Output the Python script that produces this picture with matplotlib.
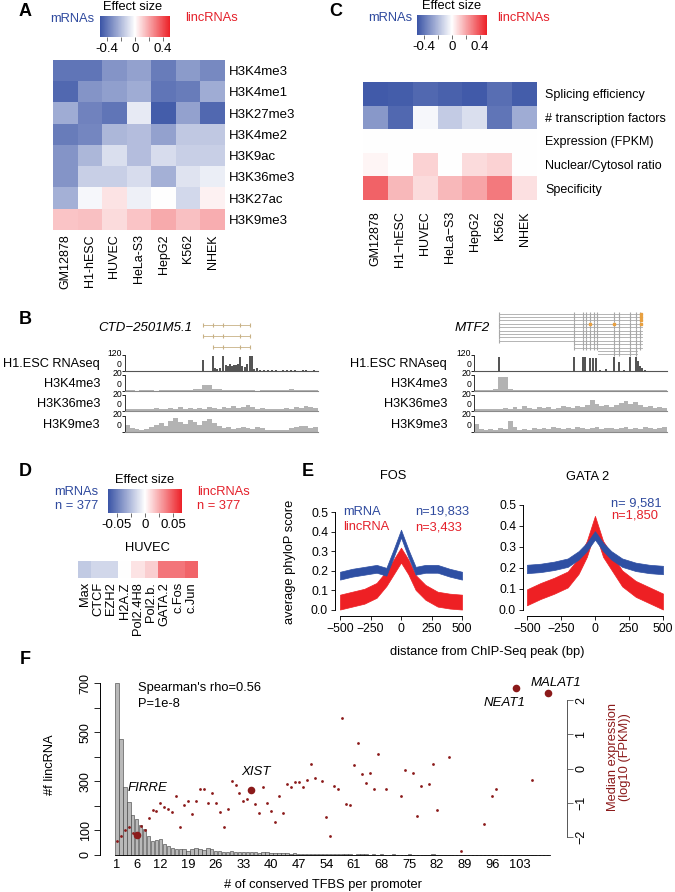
import numpy as np
import matplotlib
matplotlib.use('Agg')
import matplotlib.pyplot as plt
from matplotlib.colors import LinearSegmentedColormap, Normalize
from matplotlib.cm import ScalarMappable

plt.rcParams['font.family'] = ['Liberation Sans', 'DejaVu Sans']
plt.rcParams['font.size'] = 9

# ---------------- data ----------------
cell_lines = ['GM12878', 'H1-hESC', 'HUVEC', 'HeLa-S3', 'HepG2', 'K562', 'NHEK']
cell_lines_c = ['GM12878', 'H1\u2212hESC', 'HUVEC', 'HeLa\u2212S3', 'HepG2', 'K562', 'NHEK']

marks_a = ['H3K4me3', 'H3K4me1', 'H3K27me3', 'H3K4me2', 'H3K9ac', 'H3K36me3', 'H3K27ac', 'H3K9me3']
effect_a = [
    [-0.40, -0.40, -0.31, -0.27, -0.38, -0.29, -0.34],
    [-0.44, -0.31, -0.28, -0.24, -0.40, -0.38, -0.24],
    [-0.24, -0.36, -0.40, -0.06, -0.47, -0.27, -0.44],
    [-0.38, -0.35, -0.21, -0.19, -0.27, -0.16, -0.16],
    [-0.31, -0.21, -0.09, -0.19, -0.10, -0.14, -0.14],
    [-0.31, -0.14, -0.14, -0.10, -0.23, -0.08, -0.05],
    [-0.23, -0.02, 0.06, -0.04, 0.00, -0.11, 0.03],
    [0.13, 0.14, 0.08, 0.13, 0.19, 0.14, 0.18],
]

features_c = ['Splicing efficiency', '# transcription factors', 'Expression (FPKM)',
              'Nuclear/Cytosol ratio', 'Specificity']
effect_c = [
    [-0.48, -0.47, -0.44, -0.46, -0.48, -0.42, -0.47],
    [-0.30, -0.44, -0.02, -0.15, -0.09, -0.40, -0.24],
    [0.00, 0.00, 0.00, 0.00, 0.00, 0.00, 0.00],
    [0.02, 0.00, 0.10, 0.00, 0.08, 0.10, 0.00],
    [0.35, 0.16, 0.08, 0.16, 0.20, 0.30, 0.07],
]

factors_d = ['Max', 'CTCF', 'EZH2', 'H2A.Z', 'Pol2.4H8', 'Pol2.b.', 'GATA.2', 'c.Fos', 'c.Jun']
effect_d = [-0.020, -0.015, -0.015, 0.000, 0.008, 0.014, 0.040, 0.040, 0.045]

# panel B tracks (positions 0-100 along locus; RNAseq 0-120, ChIP 0-20)
rnaL_pos = [2, 6, 10, 14, 18, 22, 26, 30, 34, 38, 40.4, 45.6, 46.6, 47.7, 49.2, 51.0, 52.3, 53.4,
            54.4, 55.4, 56.5, 57.5, 58.5, 59.6, 60.6, 62.2, 63.2, 64.8, 65.8, 66.8, 68.4,
            70, 72, 74, 76, 78, 80, 82, 84, 86, 88, 90, 92, 94, 96, 98]
rnaL_val = [1, 1, 1, 1, 1, 1, 1, 1, 1, 1, 85, 110, 20, 15, 20, 110, 45, 40, 50, 38, 48, 42, 55,
            105, 40, 30, 55, 110, 110, 15, 20, 8, 5, 6, 4, 5, 3, 6, 5, 4, 5, 3, 4, 5, 3, 4]
k4L = [1, 1, 0.5, 1, 1, 1, 0.5, 1, 1, 1, 1.5, 1, 1, 1.5, 2, 2.5, 7, 8, 3, 2, 1.5, 1, 1, 1, 1.5, 1,
       1, 0.5, 1, 1, 1.5, 1, 1, 1, 2, 1, 1, 1.5, 1, 1]
k36L = [3, 2, 3, 2, 3, 2, 4, 3, 3, 4, 3, 5, 3, 4, 3, 4, 3, 5, 4, 3, 5, 4, 6, 4, 5, 7, 5, 3, 4, 2,
        3, 2, 3, 4, 3, 5, 4, 6, 5, 4]
k9L = [9, 5, 4, 3, 4, 6, 9, 11, 8, 14, 18, 12, 10, 15, 13, 9, 14, 16, 11, 7, 5, 6, 4, 5, 6, 5, 4,
       6, 5, 3, 2, 3, 2, 3, 5, 6, 8, 7, 5, 6]

rnaR_pos = [13, 51.8, 56.5, 57.5, 60.1, 61.7, 63.2, 65.3, 68.4, 72.5, 75.1, 77.7, 80.8, 83.9,
            85.0, 86.0, 87.0, 88.6]
rnaR_val = [108, 108, 108, 108, 100, 100, 100, 8, 15, 105, 70, 10, 108, 108, 75, 40, 20, 8]
k4R = [1, 1, 1, 1, 2, 17, 17, 3, 1, 1, 1, 1, 1.5, 1, 1, 1, 1, 1.5, 1, 1, 1, 1, 1, 1.5, 1, 1, 1,
       1, 1, 1, 1, 1.5, 1, 1, 1, 1, 1, 1, 1, 1]
k36R = [2, 3, 2, 3, 2, 3, 4, 3, 5, 3, 6, 4, 3, 5, 4, 5, 3, 4, 6, 5, 4, 6, 5, 8, 14, 9, 6, 7, 5, 8,
        10, 12, 9, 11, 7, 5, 6, 4, 5, 4]
k9R = [10, 4, 3, 4, 3, 5, 4, 14, 6, 3, 4, 3, 5, 4, 5, 4, 6, 5, 4, 5, 4, 6, 5, 4, 5, 6, 4, 5, 5, 4,
       5, 6, 4, 5, 4, 6, 5, 4, 5, 6]

ctd_starts = [40.4, 40.4, 45.6]
ctd_ends = [64.8, 64.8, 64.8]
ctd_exons = [40.4, 45.6, 51.0, 59.6, 64.8]
mtf2_starts = [13] * 9 + [51.8] * 2 + [64.2] * 2
mtf2_ends = [87] * 11 + [84.5] * 2
mtf2_exons = [13, 51.8, 56.5, 58, 60, 62, 63.7, 72.5, 75, 80.8, 84, 86]

# panel E
dist = [-500, -400, -300, -200, -120, -60, 0, 60, 120, 200, 300, 400, 500]
fos_mrna = [0.175, 0.19, 0.20, 0.21, 0.195, 0.29, 0.39, 0.29, 0.20, 0.21, 0.21, 0.19, 0.175]
fos_linc = [0.04, 0.055, 0.07, 0.10, 0.16, 0.22, 0.28, 0.22, 0.14, 0.09, 0.055, 0.045, 0.04]
gata_mrna = [0.195, 0.20, 0.21, 0.225, 0.26, 0.30, 0.355, 0.30, 0.26, 0.225, 0.205, 0.195, 0.19]
gata_linc = [0.06, 0.09, 0.115, 0.145, 0.21, 0.29, 0.41, 0.29, 0.23, 0.15, 0.10, 0.07, 0.04]
mrna_spread = 0.02
linc_spread = 0.038

# panel F
tfbs_counts = [700, 471, 276, 217, 162, 148, 122, 105, 77, 57, 61, 64, 43, 38, 27, 23, 24, 23, 18,
               23, 27, 26, 20, 27, 23, 18, 15, 14, 14, 15, 13, 14, 13, 12, 13, 11, 10, 12, 11, 9,
               8, 9, 7, 8, 6, 7, 5, 6, 5, 4, 5, 3, 4, 3, 5, 2, 3, 4, 2, 3, 1, 4, 3, 2, 1, 2, 1, 3,
               1, 1, 2, 1, 0, 1, 2, 1, 0, 1, 1, 0, 2, 1, 0, 1, 0, 1, 0, 1, 0, 0, 1, 0, 0, 1, 0, 1,
               0, 0, 1, 0, 0, 1, 0, 0, 0, 1, 0, 0, 0, 1]
tfbs_ticks = [1, 6, 12, 19, 26, 33, 40, 47, 54, 61, 68, 75, 82, 89, 96, 103]
expr_x = [1, 2, 3, 4, 5, 7, 8, 9, 10, 11, 12, 13, 14, 15, 16, 17, 18, 19, 20, 21, 22, 23, 24, 25,
          26, 27, 28, 29, 30, 31, 32, 33, 34, 36, 37, 38, 39, 40, 41, 42, 43, 44, 45, 46, 47, 48,
          49, 50, 51, 53, 54, 55, 56, 57, 58, 59, 60, 61, 62, 63, 64, 65, 66, 67, 69, 73, 74, 76,
          77, 78, 80, 81, 82, 85, 88, 94, 96, 97, 106]
expr_y = [-2.11, -1.98, -1.79, -1.69, -1.89,
          -1.67, -1.79, -1.45, -1.21, -1.24, -0.99, -1.13, -1.18, -1.26, -0.80, -1.69, -1.06,
          -0.94, -1.33, -0.94, -0.59, -0.60, -0.99, -0.70, -0.99, -1.26, -1.69, -1.19, -0.36,
          -0.48, -0.72, -0.94, -0.89,
          -1.04, -1.30, -0.53, -0.99, -1.24, -1.57, -0.80, -1.30, -0.46, -0.53, -0.40, -0.40,
          -0.54, -0.33, 0.13, -0.28,
          -0.36, -1.40, -1.97, -0.50, -0.60, 1.47, -1.04, -1.06, 0.11, 0.76, -0.16, -0.41, -0.12,
          -0.60, 0.43,
          -0.60,
          -0.80, -0.04, -0.12, -1.37, -0.50, -0.44, 0.15, -1.20, 0.33, -2.40, -1.63, -0.81, -0.59,
          -0.34]
named_genes = ['FIRRE', 'XIST', 'NEAT1', 'MALAT1']
named_x = [6, 35, 102, 110]
named_y = [-1.94, -0.62, 2.35, 2.20]
named_label_x = [8.8, 36.2, 99.2, 112.1]
named_label_y = [-0.56, -0.10, 1.92, 2.50]

# ---------------- figure ----------------
W, H = 675, 892
fig = plt.figure(figsize=(6.75, 8.92), dpi=100)


def axpx(l, t, r, b, **kw):
    return fig.add_axes([l / W, 1 - b / H, (r - l) / W, (b - t) / H], **kw)


def tx(x, y, s, **kw):
    fig.text(x / W, 1 - y / H, s, **kw)


BLUE = '#2f4a9e'
RED = '#e4202a'
DARKRED = '#8b1a1a'
cmap = LinearSegmentedColormap.from_list('effect', ['#3a54a6', '#ffffff', '#ec2027'])


def heatmap(ax, vals, vmin, vmax):
    ax.imshow(np.array(vals), cmap=cmap, vmin=vmin, vmax=vmax, aspect='auto',
              interpolation='nearest')
    for s in ax.spines.values():
        s.set_visible(False)


def colorbar(cax, vmin, vmax, ticks, labels, fs):
    cb = fig.colorbar(ScalarMappable(Normalize(vmin, vmax), cmap), cax=cax,
                      orientation='horizontal')
    cb.outline.set_visible(False)
    cb.set_ticks(ticks)
    cb.set_ticklabels(labels)
    cax.tick_params(length=3, width=0.6, color='#555555', labelsize=fs, pad=1)


# ---- Panel A ----
tx(25, 12, 'A', fontsize=13, fontweight='bold', ha='center', va='center')
tx(133, 7, 'Effect size', fontsize=9.3, ha='center', va='center')
tx(94, 19, 'mRNAs', fontsize=9.3, color=BLUE, ha='right', va='center')
tx(185, 18, 'lincRNAs', fontsize=9.3, color=RED, ha='left', va='center')
colorbar(axpx(100, 16, 170, 37), -0.5, 0.5, [-0.4, -0.2, 0, 0.2, 0.4],
         ['-0.4', '', '0', '', '0.4'], 9.5)
axA = axpx(53, 60, 225, 230)
heatmap(axA, effect_a, -0.5, 0.5)
axA.set_xticks(range(len(cell_lines)))
axA.set_xticklabels(cell_lines, rotation=90, fontsize=9)
axA.set_yticks(range(len(marks_a)))
axA.set_yticklabels(marks_a, fontsize=9.5)
axA.yaxis.tick_right()
axA.tick_params(length=0, pad=3)

# ---- Panel C ----
tx(336, 11, 'C', fontsize=13, fontweight='bold', ha='center', va='center')
tx(452, 6, 'Effect size', fontsize=9.3, ha='center', va='center')
tx(412, 18, 'mRNAs', fontsize=9.3, color=BLUE, ha='right', va='center')
tx(497, 18, 'lincRNAs', fontsize=9.3, color=RED, ha='left', va='center')
colorbar(axpx(417, 15, 487, 35), -0.5, 0.5, [-0.4, -0.2, 0, 0.2, 0.4],
         ['-0.4', '', '0', '', '0.4'], 9.5)
axC = axpx(363, 82, 537, 200)
heatmap(axC, effect_c, -0.5, 0.5)
axC.set_xticks(range(len(cell_lines_c)))
axC.set_xticklabels(cell_lines_c, rotation=90, fontsize=9)
axC.set_yticks(range(len(features_c)))
axC.set_yticklabels(features_c, fontsize=9)
axC.yaxis.tick_right()
axC.tick_params(length=0, pad=6)
axC.tick_params(axis='x', pad=8)

# ---- Panel B ----
tx(25, 320, 'B', fontsize=13, fontweight='bold', ha='center', va='center')
track_rows = [(355, 371), (375, 391), (395, 411), (416, 432)]
track_names = ['H1.ESC RNAseq', 'H3K4me3', 'H3K36me3', 'H3K9me3']


def draw_tracks(xl, xr, label_x, rna_pos, rna_val, chips):
    for i, ((t, b), name) in enumerate(zip(track_rows, track_names)):
        ax = axpx(xl, t, xr, b)
        ax.patch.set_alpha(0)
        if i == 0:
            ymax = 120
            ax.bar(rna_pos, rna_val, width=1.0, color='#555555', linewidth=0)
        else:
            ymax = 20
            vals = chips[i - 1]
            n = len(vals)
            pos = (np.arange(n) + 0.5) * 100.0 / n
            ax.bar(pos, vals, width=100.0 / n, color='#b3b3b3', linewidth=0)
        ax.set_xlim(0, 100)
        ax.set_ylim(0, ymax)
        ax.spines['top'].set_visible(False)
        ax.spines['right'].set_visible(False)
        ax.spines['bottom'].set_color('#8a8a8a' if i else '#555555')
        ax.spines['bottom'].set_linewidth(0.8)
        ax.spines['left'].set_linewidth(0.7)
        ax.spines['left'].set_color('#333333')
        ax.set_xticks([])
        ax.set_yticks([0, ymax])
        ax.set_yticklabels(['', ''])
        ax.tick_params(axis='y', length=2, width=0.6, pad=1)
        # axis value labels, stacked so they stay clear of each other
        tx(xl - 3, t - 1, str(ymax), fontsize=6.2, ha='right', va='center')
        tx(xl - 3, t + 9.5, '0', fontsize=6.2, ha='right', va='center')
        tx(label_x, (t + b) / 2 + 1, name, fontsize=9.2, ha='right', va='center')


draw_tracks(125, 318, 100, rnaL_pos, rnaL_val, [k4L, k36L, k9L])
draw_tracks(474, 667, 447, rnaR_pos, rnaR_val, [k4R, k36R, k9R])


def gene_model(xl, t, xr, b, starts, ends, exons, color):
    ax = axpx(xl, t, xr, b)
    ax.axis('off')
    n = len(starts)
    for r in range(n):
        ax.plot([starts[r], ends[r]], [r, r], color=color, lw=0.6)
        ex = [e for e in exons if starts[r] <= e <= ends[r]]
        ax.plot(ex, [r] * len(ex), linestyle='none', marker='|', markersize=3.5,
                color=color, markeredgewidth=0.8)
    ax.set_xlim(0, 100)
    ax.set_ylim(n - 0.5, -0.5)
    return ax


gene_model(125, 320, 318, 352, ctd_starts, ctd_ends, ctd_exons, '#c8b185')
axM = gene_model(474, 312, 667, 356, mtf2_starts, mtf2_ends, mtf2_exons, '#a8a8a8')
axM.plot([86.5] * 4, [0, 1, 2, 3], linestyle='none', marker='s', markersize=1.8,
         color='#e8a040')
axM.plot([60, 72.5], [3, 3], linestyle='none', marker='s', markersize=1.8,
         color='#e8a040')
tx(192, 328, 'CTD\u22122501M5.1', fontsize=9.5, style='italic', ha='right', va='center')
tx(472, 328, 'MTF2', fontsize=9.7, style='italic', ha='center', va='center')

# ---- Panel D ----
tx(25, 471, 'D', fontsize=13, fontweight='bold', ha='center', va='center')
tx(145, 480, 'Effect size', fontsize=9.3, ha='center', va='center')
tx(98, 492, 'mRNAs', fontsize=9.3, color=BLUE, ha='right', va='center')
tx(98, 506, 'n = 377', fontsize=9.3, color=BLUE, ha='right', va='center')
tx(197, 492, 'lincRNAs', fontsize=9.3, color=RED, ha='left', va='center')
tx(197, 506, 'n = 377', fontsize=9.3, color=RED, ha='left', va='center')
colorbar(axpx(108, 489, 182, 513), -0.065, 0.065, [-0.05, -0.025, 0, 0.025, 0.05],
         ['-0.05', '', '0', '', '0.05'], 9.5)
tx(147, 548, 'HUVEC', fontsize=9.3, ha='center', va='center')
axD = axpx(78, 561, 198, 578)
heatmap(axD, [effect_d], -0.065, 0.065)
axD.set_xticks(range(len(factors_d)))
axD.set_xticklabels(factors_d, rotation=90, fontsize=9.3)
axD.set_yticks([])
axD.tick_params(length=0, pad=3)

# ---- Panel E ----
tx(308, 472, 'E', fontsize=13, fontweight='bold', ha='center', va='center')


def phylo_axes(l, t, r, b, xlim, ylim, title, title_xy, mrna, linc):
    ax = axpx(l, t, r, b)
    ax.fill_between(dist, np.array(linc) - linc_spread, np.array(linc) + linc_spread,
                    color='#ee2024', linewidth=0.5, edgecolor='#ee2024')
    ax.fill_between(dist, np.array(mrna) - mrna_spread, np.array(mrna) + mrna_spread,
                    color='#2e4fa3', linewidth=0.5, edgecolor='#2e4fa3')
    ax.set_xlim(*xlim)
    ax.set_ylim(*ylim)
    ax.spines['top'].set_visible(False)
    ax.spines['right'].set_visible(False)
    ax.spines['left'].set_bounds(0, 0.5)
    ax.spines['bottom'].set_bounds(-500, 500)
    for s in ['left', 'bottom']:
        ax.spines[s].set_linewidth(0.7)
    ax.set_yticks([0, 0.1, 0.2, 0.3, 0.4, 0.5])
    ax.set_yticklabels(['0.0', '0.1', '0.2', '0.3', '0.4', '0.5'])
    ax.set_xticks([-500, -250, 0, 250, 500])
    ax.set_xticklabels(['\u2212500', '\u2212250', '0', '250', '500'])
    ax.tick_params(labelsize=8.7, length=3, width=0.6, pad=2)
    tx(title_xy[0], title_xy[1], title, fontsize=9.3, ha='center', va='center')
    return ax


phylo_axes(335, 505, 468, 616, (-541, 549), (-0.031, 0.536), 'FOS', (393, 476),
           fos_mrna, fos_linc)
phylo_axes(523, 498, 668, 616, (-529, 537), (-0.029, 0.533), 'GATA 2', (588, 477),
           gata_mrna, gata_linc)
tx(343, 512, 'mRNA', fontsize=9.3, color=BLUE, ha='left', va='center')
tx(343, 527, 'lincRNA', fontsize=9.3, color=RED, ha='left', va='center')
tx(415, 512, 'n=19,833', fontsize=9.3, color=BLUE, ha='left', va='center')
tx(415, 527, 'n=3,433', fontsize=9.3, color=RED, ha='left', va='center')
tx(611, 503, 'n= 9,581', fontsize=9.3, color=BLUE, ha='left', va='center')
tx(611, 516, 'n=1,850', fontsize=9.3, color=RED, ha='left', va='center')
tx(290, 562, 'average phyloP score', fontsize=9.3, rotation=90, ha='center', va='center')
tx(487, 652, 'distance from ChIP-Seq peak (bp)', fontsize=9.3, ha='center', va='center')

# ---- Panel F ----
tx(25, 660, 'F', fontsize=13, fontweight='bold', ha='center', va='center')
axF = axpx(100, 680, 567, 857)
bx = np.arange(1, len(tfbs_counts) + 1)
axF.bar(bx, tfbs_counts, width=0.85, color='#b9b9b9', edgecolor='#3a3a3a', linewidth=0.4)
axF.set_xlim(-3.3, 114.9)
axF.set_ylim(-8.2, 713.4)
axF.spines['top'].set_visible(False)
axF.spines['right'].set_visible(False)
axF.spines['left'].set_bounds(0, 700)
axF.spines['left'].set_linewidth(0.7)
axF.spines['bottom'].set_position(('data', 0))
axF.spines['bottom'].set_bounds(0.5, len(tfbs_counts) + 0.5)
axF.spines['bottom'].set_linewidth(0.6)
axF.set_yticks(range(0, 701, 100))
axF.set_yticklabels(['0', '100', '', '300', '', '500', '', '700'])
axF.tick_params(axis='y', labelrotation=90, labelsize=9, length=4, width=0.6, pad=2)
for lab in axF.get_yticklabels():
    lab.set_va('center')
axF.set_xticks(tfbs_ticks)
axF.set_xticklabels([str(t) for t in tfbs_ticks])
axF.tick_params(axis='x', length=0, labelsize=9.3, pad=3)

axR = axF.twinx()
axR.set_ylim(-2.58, 2.59)
for s in ['top', 'left', 'bottom']:
    axR.spines[s].set_visible(False)
axR.spines['right'].set_bounds(-2, 2)
axR.spines['right'].set_linewidth(0.7)
axR.spines['right'].set_color('#555555')
axR.set_yticks([-2, -1, 0, 1, 2])
axR.set_yticklabels(['\u22122', '\u22121', '0', '1', '2'])
axR.tick_params(axis='y', labelrotation=90, labelsize=9, length=4, width=0.6, pad=2,
                color='#555555')
for lab in axR.get_yticklabels():
    lab.set_va('center')
axR.scatter(expr_x, expr_y, s=4, color=DARKRED, linewidths=0, zorder=3)
axR.scatter(named_x, named_y, s=30, color=DARKRED, linewidths=0, zorder=3)
for g, lx, ly in zip(named_genes, named_label_x, named_label_y):
    axR.text(lx, ly, g, fontsize=9.5, style='italic', ha='center', va='center')

tx(138, 688, "Spearman's rho=0.56", fontsize=9.3, ha='left', va='center')
tx(138, 704, 'P=1e-8', fontsize=9.3, ha='left', va='center')
tx(50, 765, '#f lincRNA', fontsize=9.3, rotation=90, ha='center', va='center')
tx(619, 757, 'Median expression\n(log10 (FPKM))', fontsize=9.3, rotation=90,
   ha='center', va='center', color=DARKRED, linespacing=1.1)
tx(323, 885, '# of conserved TFBS per promoter', fontsize=9.3, ha='center', va='center')

fig.savefig('out.png', dpi=100)
